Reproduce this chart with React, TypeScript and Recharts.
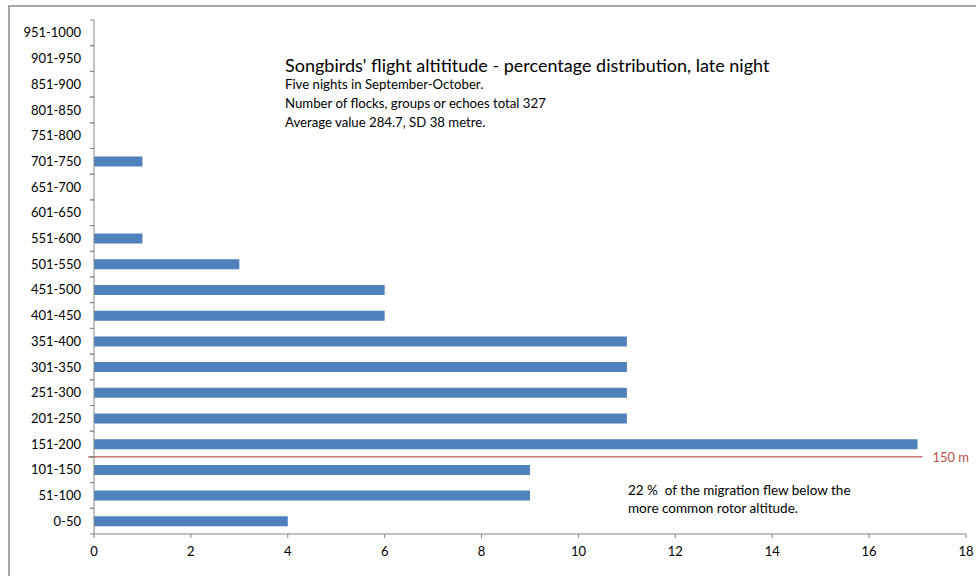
import React from 'react'
import {
  BarChart, Bar, XAxis, YAxis, ReferenceLine
} from 'recharts'

// altitude bands in metres, listed top to bottom
const bands = [
  '951-1000', '901-950', '851-900', '801-850', '751-800', '701-750', '651-700',
  '601-650', '551-600', '501-550', '451-500', '401-450', '351-400', '301-350',
  '251-300', '201-250', '151-200', '101-150', '51-100', '0-50'
]
// share of flocks per band (%)
const shares = [0, 0, 0, 0, 0, 1, 0, 0, 1, 3, 6, 6, 11, 11, 11, 11, 17, 9, 9, 4]
const xTicks = [0, 2, 4, 6, 8, 10, 12, 14, 16, 18]
// the 150 m rotor line sits on the upper edge of this band
const rotorBand = '101-150'

const title = "Songbirds' flight altititude - percentage distribution, late night"
const notes = [
  'Five nights in September-October.',
  'Number of flocks, groups or echoes total 327',
  'Average value 284.7, SD 38 metre.'
]
const belowNote = ['22 %  of the migration flew below the', 'more common rotor altitude.']

const data = bands.map((band, i) => ({ band, share: shares[i] }))

const font = 'Lato, "Open Sans", sans-serif'
const axisGray = '#868686'
const red = '#c0504d'
const TICK = 4
const TICK_GAP = 9

// category label plus Excel-style tick marks on the band edges
const BandTick = (props: any) => {
  const { x, y, payload } = props
  const half = payload.offset || 0
  const x1 = x + TICK_GAP
  const x2 = x1 + TICK
  return (
    <g>
      <line x1={x1} x2={x2} y1={y - half} y2={y - half} stroke={axisGray} />
      <line x1={x1} x2={x2} y1={y + half} y2={y + half} stroke={axisGray} />
      <text x={x} y={y} dy="0.35em" textAnchor="end" fill="#000" fontSize={13} fontFamily={font}>
        {payload.value}
      </text>
    </g>
  )
}

const App: React.FC = () => {
  return (
    <div style={{ position: 'relative', width: 976, height: 576, fontFamily: font, overflow: 'hidden' }}>
      <style>{'body{margin:0;overflow:hidden}'}</style>
      <div style={{
        position: 'absolute', left: 8, top: 5, width: 968, height: 571,
        borderLeft: '2px solid #a6a6a6', borderTop: '2px solid #a6a6a6', boxSizing: 'border-box'
      }} />
      <BarChart
        width={976} height={576} data={data} layout="vertical"
        margin={{ top: 20, right: 10, bottom: 12, left: 14 }}
        style={{ position: 'absolute', left: 0, top: 0 }}
      >
        <XAxis
          type="number" domain={[0, 18]} ticks={xTicks} interval={0}
          stroke={axisGray} tickSize={TICK} tickMargin={TICK_GAP} height={30}
          tick={{ fill: '#000', fontSize: 13, fontFamily: font }}
        />
        <YAxis
          dataKey="band" type="category" width={80} interval={0}
          stroke={axisGray} tickLine={false} tickSize={TICK} tickMargin={TICK_GAP}
          tick={<BandTick />}
        />
        <Bar dataKey="share" fill="#4f81bd" barSize={10} isAnimationActive={false} />
        <ReferenceLine
          ifOverflow="visible" position="start" stroke={red} strokeWidth={1.4}
          segment={[{ x: -0.12, y: rotorBand }, { x: 17.1, y: rotorBand }]}
          label={{ value: '150 m', position: 'right', offset: 10, fill: red, fontSize: 13, fontFamily: font }}
        />
      </BarChart>
      <div style={{ position: 'absolute', left: 285, top: 54, fontSize: 18, color: '#000', whiteSpace: 'nowrap' }}>
        {title}
      </div>
      {notes.map((t, i) => (
        <div key={i} style={{ position: 'absolute', left: 285, top: 76 + i * 19, fontSize: 13.2, whiteSpace: 'nowrap' }}>
          {t}
        </div>
      ))}
      {belowNote.map((t, i) => (
        <div key={i} style={{ position: 'absolute', left: 628, top: 482 + i * 18, fontSize: 13.5, whiteSpace: 'pre' }}>
          {t}
        </div>
      ))}
    </div>
  )
}

export default App
